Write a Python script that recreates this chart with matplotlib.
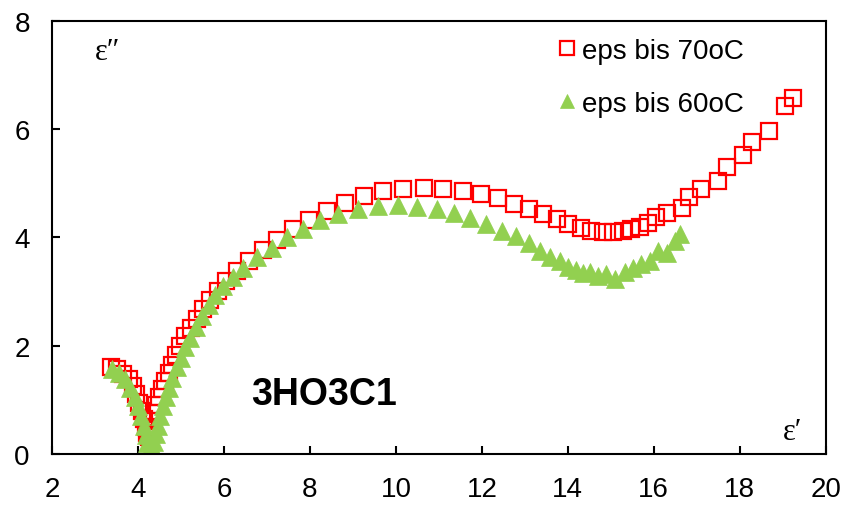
import matplotlib
matplotlib.use("Agg")
import matplotlib.pyplot as plt

# Cole-Cole plot of 3HO3C1: eps'' vs eps' at two temperatures
eps1_70 = [3.38, 3.52, 3.66, 3.78, 3.88, 3.96, 4.03, 4.09, 4.14, 4.18, 4.22, 4.26,
           4.30, 4.34, 4.38, 4.43, 4.49, 4.56, 4.63, 4.71, 4.79, 4.88, 4.98, 5.10,
           5.23, 5.37, 5.52, 5.68, 5.85, 6.05, 6.30, 6.58, 6.90, 7.23, 7.60, 7.98,
           8.40, 8.82, 9.26, 9.70, 10.17, 10.65, 11.10, 11.55, 11.97, 12.38, 12.74,
           13.10, 13.43, 13.74, 14.00, 14.30, 14.55, 14.82, 15.05, 15.28, 15.48,
           15.67, 15.87, 16.06, 16.30, 16.65, 16.82, 17.10, 17.50, 17.70, 18.08,
           18.28, 18.67, 19.05, 19.25]
eps2_70 = [1.60, 1.56, 1.48, 1.38, 1.25, 1.10, 0.95, 0.80, 0.65, 0.50, 0.38, 0.32,
           0.45, 0.60, 0.75, 0.90, 1.05, 1.20, 1.35, 1.50, 1.65, 1.82, 2.00, 2.17,
           2.33, 2.50, 2.67, 2.84, 3.01, 3.20, 3.38, 3.57, 3.76, 3.96, 4.15, 4.33,
           4.49, 4.63, 4.76, 4.85, 4.89, 4.91, 4.90, 4.86, 4.80, 4.72, 4.62,
           4.52, 4.43, 4.34, 4.25, 4.18, 4.12, 4.10, 4.10, 4.12, 4.15,
           4.20, 4.27, 4.37, 4.46, 4.55, 4.75, 4.90, 5.05, 5.30, 5.53,
           5.76, 5.97, 6.42, 6.57]

eps1_60 = [3.40, 3.55, 3.70, 3.82, 3.92, 4.00, 4.07, 4.13, 4.18, 4.22, 4.26, 4.30,
           4.34, 4.38, 4.42, 4.47, 4.52, 4.58, 4.65, 4.72, 4.80, 4.90, 5.00, 5.10,
           5.22, 5.35, 5.50, 5.65, 5.80, 5.98, 6.20, 6.45, 6.78, 7.11, 7.46, 7.84,
           8.23, 8.66, 9.12, 9.59, 10.05, 10.50, 10.95, 11.35, 11.72, 12.10, 12.48,
           12.80, 13.10, 13.35, 13.58, 13.81, 14.00, 14.20, 14.36, 14.51, 14.70,
           14.90, 15.09, 15.33, 15.52, 15.71, 15.91, 16.10, 16.30, 16.49, 16.62]
eps2_60 = [1.57, 1.50, 1.38, 1.22, 1.05, 0.88, 0.70, 0.52, 0.35, 0.20, 0.08, 0.02,
           0.10, 0.22, 0.36, 0.52, 0.70, 0.88, 1.05, 1.22, 1.40, 1.60, 1.78, 1.97,
           2.15, 2.35, 2.55, 2.75, 2.93, 3.10, 3.27, 3.43, 3.63, 3.81, 4.00, 4.16,
           4.32, 4.44, 4.53, 4.58, 4.59, 4.57, 4.52, 4.45, 4.35, 4.24, 4.12,
           4.02, 3.90, 3.75, 3.63, 3.56, 3.46, 3.40, 3.34, 3.36, 3.28,
           3.32, 3.24, 3.36, 3.43, 3.50, 3.57, 3.74, 3.72, 3.94, 4.06]

labels = ["eps bis 70oC", "eps bis 60oC"]
xticks = list(range(2, 21, 2))
yticks = list(range(0, 9, 2))

plt.rcParams['font.family'] = ['Liberation Sans', 'DejaVu Sans']

fig = plt.figure(figsize=(8.53, 5.10), dpi=100)
ax = fig.add_axes([0.061, 0.108, 0.907, 0.849])

ax.plot(eps1_70, eps2_70, ls='none', marker='s', ms=11.5, mfc='none',
        mec='#FF0000', mew=1.6, label=labels[0])
ax.plot(eps1_60, eps2_60, ls='none', marker='^', ms=12.5, mfc='#92D050',
        mec='#92D050', mew=0.5, label=labels[1])

ax.set_xlim(2, 20)
ax.set_ylim(0, 8)
ax.set_xticks(xticks)
ax.set_yticks(yticks)
ax.tick_params(direction='in', length=6, width=1.5, labelsize=20, pad=16)
for s in ax.spines.values():
    s.set_linewidth(1.5)

ax.text(3.0, 7.3, "ε″", family=['Liberation Serif', 'DejaVu Serif'], fontsize=22)
ax.text(19.0, 0.27, "ε′", family=['Liberation Serif', 'DejaVu Serif'], fontsize=22)
ax.text(8.33, 1.1, "3HO3C1", fontsize=27, fontweight='bold', ha='center', va='center')

ax.legend(loc='upper right', frameon=False, fontsize=20, handletextpad=0.05,
          labelspacing=0.95, borderaxespad=0.3, markerscale=0.85, handlelength=1.0,
          bbox_to_anchor=(0.92, 1.005))

fig.savefig("out.png", dpi=100)
